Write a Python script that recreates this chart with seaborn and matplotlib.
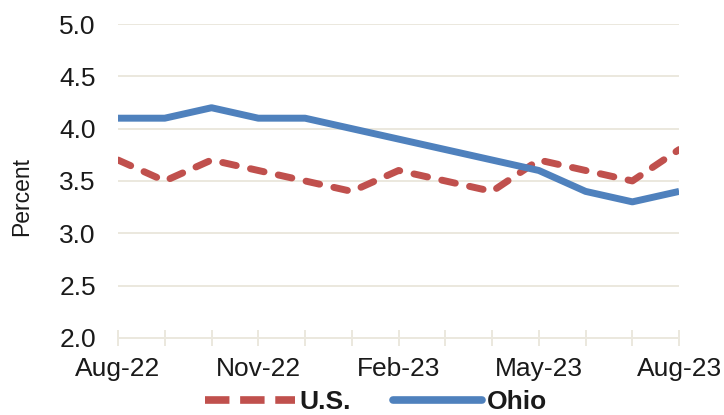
import matplotlib
matplotlib.use("Agg")
import matplotlib.pyplot as plt
import pandas as pd
import seaborn as sns


MONTHS = [
    "Aug-22", "Sep-22", "Oct-22", "Nov-22", "Dec-22", "Jan-23", "Feb-23",
    "Mar-23", "Apr-23", "May-23", "Jun-23", "Jul-23", "Aug-23",
]
US_RATE = [3.7, 3.5, 3.7, 3.6, 3.5, 3.4, 3.6, 3.5, 3.4, 3.7, 3.6, 3.5, 3.8]
OHIO_RATE = [4.1, 4.1, 4.2, 4.1, 4.1, 4.0, 3.9, 3.8, 3.7, 3.6, 3.4, 3.3, 3.4]
TICK_LABELS = ["Aug-22", "Nov-22", "Feb-23", "May-23", "Aug-23"]
Y_TICKS = [2.0, 2.5, 3.0, 3.5, 4.0, 4.5, 5.0]

RED = "#c0504d"
BLUE = "#4f81bd"
GRID = "#ebe8de"
TEXT = "#1a1a1a"


def build_frame() -> pd.DataFrame:
    rows = []
    for i, m in enumerate(MONTHS):
        rows.append({"idx": i, "Month": m, "Series": "U.S.", "Rate": US_RATE[i]})
        rows.append({"idx": i, "Month": m, "Series": "Ohio", "Rate": OHIO_RATE[i]})
    return pd.DataFrame(rows)


def main() -> None:
    sns.set_theme(style="white")
    plt.rcParams["font.family"] = ["Liberation Sans", "DejaVu Sans"]

    df = build_frame()

    fig = plt.figure(figsize=(7.24, 4.15), dpi=100)
    ax = fig.add_axes([0.163, 0.186, 0.775, 0.756])

    sns.lineplot(
        data=df, x="idx", y="Rate", hue="Series", style="Series",
        palette={"U.S.": RED, "Ohio": BLUE},
        dashes={"U.S.": (2.0, 2.1), "Ohio": ""},
        linewidth=5.0, legend=False, ax=ax,
    )
    for line in ax.get_lines():
        line.set_dash_capstyle("round")
        line.set_solid_capstyle("butt")

    ax.set_xlim(0, len(MONTHS) - 1)
    ax.set_ylim(2.0, 5.0)
    ax.set_yticks(Y_TICKS)
    ax.set_yticklabels([f"{v:.1f}" for v in Y_TICKS])
    ax.set_xticks(range(len(MONTHS)))
    ax.set_xticklabels([m if m in TICK_LABELS else "" for m in MONTHS])

    ax.grid(axis="y", color=GRID, linewidth=1.4)
    ax.grid(axis="x", visible=False)
    ax.set_axisbelow(True)
    for side in ["left", "right", "top"]:
        ax.spines[side].set_visible(False)
    ax.spines["bottom"].set_color(GRID)
    ax.spines["bottom"].set_linewidth(1.4)

    ax.tick_params(axis="y", left=False, length=0, labelsize=19, pad=16,
                   labelcolor=TEXT)
    ax.tick_params(axis="x", bottom=True, direction="inout", length=12,
                   width=1.4, color=GRID, labelsize=19, pad=8, labelcolor=TEXT)

    ax.set_xlabel("")
    ax.set_ylabel("Percent", fontsize=16.5, labelpad=19, color=TEXT)
    ax.yaxis.label.set_y(0.45)

    handles = [
        plt.Line2D([], [], color=RED, linewidth=5.5, linestyle=(0, (3.2, 1.4)),
                   dash_capstyle="butt"),
        plt.Line2D([], [], color=BLUE, linewidth=5.5, solid_capstyle="round"),
    ]
    leg = fig.legend(
        handles, ["U.S.", "Ohio"], loc="center",
        bbox_to_anchor=(376 / 724, 1 - 402 / 415), ncol=2, frameon=False,
        handlelength=3.4, handletextpad=0.15, columnspacing=1.6,
        prop={"size": 19, "weight": "bold"}, borderaxespad=0, borderpad=0,
    )
    for t in leg.get_texts():
        t.set_color(TEXT)

    fig.savefig("out.png", dpi=100)
    plt.close(fig)


if __name__ == "__main__":
    main()
